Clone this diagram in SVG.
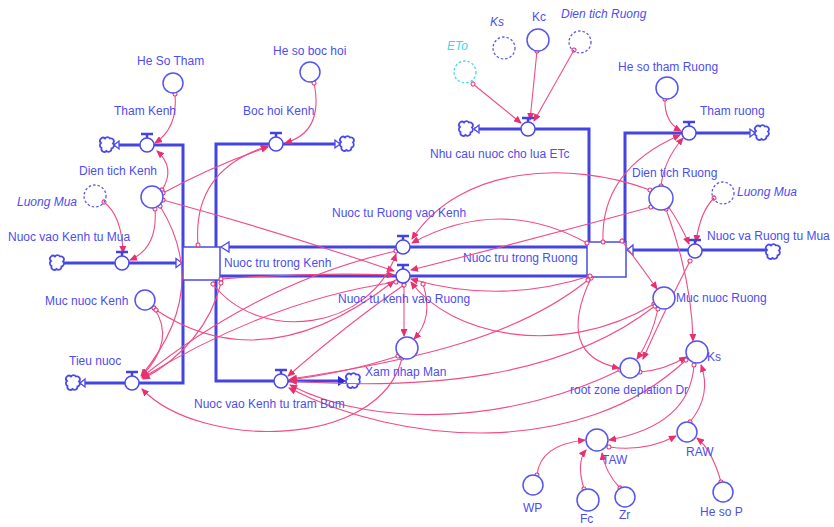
<svg xmlns="http://www.w3.org/2000/svg" xmlns:xlink="http://www.w3.org/1999/xlink" width="834" height="527" viewBox="0 0 834 527">
  <style>
    .lbl { font-family: "Liberation Sans", Arial, sans-serif; font-size: 12px; fill: #4d4df2; }
    .it { font-style: italic; }
    .aux { fill: #ffffff; stroke: #5555f0; stroke-width: 1.5; }
    .shadow { fill: none; stroke: #5a5af0; stroke-width: 1.3; stroke-dasharray: 2.5 2; }
    .pipe { fill: none; stroke: #4444e4; stroke-width: 3; }
    .box { fill: #ffffff; stroke: #4a4ae8; stroke-width: 1.5; }
    .valve { fill: #ffffff; stroke: #4a4aee; stroke-width: 1.5; }
    .vbar { stroke: #4242e4; stroke-width: 2.5; }
    .cloud { fill: #ffffff; stroke: #4a4aee; stroke-width: 1.8; }
    .head { fill: #ffffff; stroke: #4a4aee; stroke-width: 1.3; }
    .lk { fill: none; stroke: #f24b86; stroke-width: 1.1; marker-end: url(#arr); marker-start: url(#tail); }
  </style>
  <defs>
    <marker id="arr" markerUnits="userSpaceOnUse" markerWidth="8" markerHeight="7" refX="7" refY="3.5" orient="auto">
      <path d="M0,0 L8,3.5 L0,7 z" fill="#e8306e"/>
    </marker>
    <marker id="tail" markerUnits="userSpaceOnUse" markerWidth="6" markerHeight="6" refX="3" refY="3" orient="auto">
      <circle cx="3" cy="3" r="2" fill="#ffffff" stroke="#e8306e" stroke-width="1"/>
    </marker>
    <path id="cld" class="cloud" d="M-6,-2 a3,3 0 0 1 4,-4.5 a3,3 0 0 1 5,0 a3,3 0 0 1 3,5 a3,3 0 0 1 -1.5,5 a3,3 0 0 1 -5,2.5 a3,3 0 0 1 -5,-3 a3,3 0 0 1 -0.5,-5 z"/>
    <g id="vlv">
      <line class="vbar" x1="-6" y1="-11" x2="6" y2="-11"/>
      <line class="vbar" x1="0" y1="-11" x2="0" y2="-7" stroke-width="1.5"/>
      <circle class="valve" r="7"/>
    </g>
  </defs>
  <rect width="834" height="527" fill="#ffffff"/>

  <!-- material pipes -->
  <g id="pipes">
    <path class="pipe" d="M114 145 H183 V383 H80"/>
    <path class="pipe" d="M216 247 V144 H340"/>
    <path class="pipe" d="M216 280 V381 H343"/>
    <path class="pipe" d="M63 263 H176"/>
    <path class="pipe" d="M229 247 H587"/>
    <path class="pipe" d="M220 276 H587"/>
    <path class="pipe" d="M474 129 H589 V242"/>
    <path class="pipe" d="M625 242 V133 H755"/>
    <path class="pipe" d="M633 250 H766"/>
    <!-- pipe ends -->
    <polygon class="head" points="221,247 229,242 229,252"/>
    <polygon class="head" points="182,263 176,258.5 176,267.5"/>
    <polygon class="head" points="627,250 633,245 633,255"/>
    <polygon class="head" points="114,145 119,141 119,149"/>
    <polygon class="head" points="340,144 335,140 335,148"/>
    <polygon class="head" points="80,383 85,379 85,387"/>
    <polygon class="head" points="474,129 479,125 479,133"/>
    <polygon class="head" points="755,133 750,129 750,137"/>
    <polygon points="346,381 338,376 338,386" fill="#2828d8"/>
  </g>

  <!-- stocks -->
  <g id="stock-kenh">
    <rect class="box" x="183" y="247" width="37" height="33"/>
    <text class="lbl" x="224" y="267">Nuoc tru trong Kenh</text>
  </g>
  <g id="stock-ruong">
    <rect class="box" x="587" y="242" width="39" height="35"/>
    <text class="lbl" x="463" y="262">Nuoc tru trong Ruong</text>
  </g>

  <!-- clouds -->
  <g id="clouds">
    <use xlink:href="#cld" x="107" y="145"/>
    <use xlink:href="#cld" x="347" y="144"/>
    <use xlink:href="#cld" x="57" y="263"/>
    <use xlink:href="#cld" x="73" y="383"/>
    <use xlink:href="#cld" x="353" y="381"/>
    <use xlink:href="#cld" x="466" y="129"/>
    <use xlink:href="#cld" x="762" y="133"/>
    <use xlink:href="#cld" x="773" y="252"/>
  </g>

  <!-- causal links -->
  <g id="links">
    <path class="lk" d="M175 94 Q178 128 155 143"/>
    <path class="lk" d="M314 83 Q324 132 285 143"/>
    <path class="lk" d="M162 190 Q176 168 157 151"/>
    <path class="lk" d="M163 193 Q215 165 268 147"/>
    <path class="lk" d="M198 245 Q192 170 268 146"/>
    <path class="lk" d="M104 202 Q122 216 123 253"/>
    <path class="lk" d="M155 209 Q158 248 130 260"/>
    <path class="lk" d="M163 200 Q280 232 394 271"/>
    <path class="lk" d="M160 206 Q212 290 141 376"/>
    <path class="lk" d="M154 308 Q176 340 142 376"/>
    <path class="lk" d="M156 310 Q265 382 394 281"/>
    <path class="lk" d="M221 279 Q310 272 394 275"/>
    <path class="lk" d="M213 284 C260 345 370 330 396 254"/>
    <path class="lk" d="M396 282 Q270 300 142 378"/>
    <path class="lk" d="M396 251 Q260 282 142 377"/>
    <path class="lk" d="M221 283 Q205 345 143 379"/>
    <path class="lk" d="M402 358 C380 450 200 450 142 389"/>
    <path class="lk" d="M398 356 Q350 372 289 380"/>
    <path class="lk" d="M404 283 L404 336"/>
    <path class="lk" d="M423 284 Q434 318 414 339"/>
    <path class="lk" d="M404 285 Q350 322 288 376"/>

    <path class="lk" d="M473 84 L521 123"/>
    <path class="lk" d="M537 51 L530 120"/>
    <path class="lk" d="M574 50 L534 121"/>
    <path class="lk" d="M665 99 Q664 122 681 131"/>
    <path class="lk" d="M661 186 Q664 160 683 138"/>
    <path class="lk" d="M603 242 Q600 170 680 135"/>
    <path class="lk" d="M714 198 Q700 212 696 242"/>
    <path class="lk" d="M668 206 Q681 225 689 244"/>
    <path class="lk" d="M622 241 Q640 265 657 289"/>
    <path class="lk" d="M690 261 Q660 320 643 359"/>
    <path class="lk" d="M658 309 Q652 337 637 359"/>
    <path class="lk" d="M591 278 Q555 355 619 368"/>
    <path class="lk" d="M666 209 Q692 280 693 341"/>
    <path class="lk" d="M640 372 Q665 370 686 357"/>
    <path class="lk" d="M690 422 Q712 395 701 365"/>
    <path class="lk" d="M694 365 Q690 425 609 440"/>
    <path class="lk" d="M609 447 Q645 452 676 436"/>
    <path class="lk" d="M537 475 Q540 445 585 440"/>
    <path class="lk" d="M584 489 Q576 462 586 450"/>
    <path class="lk" d="M620 488 Q605 472 602 453"/>
    <path class="lk" d="M721 482 Q712 450 697 438"/>

    <path class="lk" d="M650 190 C570 160 460 165 412 239"/>
    <path class="lk" d="M587 243 Q500 195 412 243"/>
    <path class="lk" d="M651 207 Q530 240 411 270"/>
    <path class="lk" d="M654 304 C560 360 450 335 411 282"/>
    <path class="lk" d="M590 276 Q500 305 411 279"/>
    <path class="lk" d="M588 280 C520 335 420 360 290 379"/>
    <path class="lk" d="M655 306 C560 380 420 390 290 381"/>
    <path class="lk" d="M620 370 C520 420 380 432 290 385"/>
    <path class="lk" d="M686 360 C580 460 400 445 289 388"/>
  </g>

  <!-- Kenh side -->
  <g id="he-so-tham"><circle class="aux" cx="173" cy="83" r="10"/><text class="lbl" x="137" y="65">He So Tham</text></g>
  <g id="he-so-boc-hoi"><circle class="aux" cx="310" cy="72" r="10"/><text class="lbl" x="273" y="55">He so boc hoi</text></g>
  <g id="tham-kenh"><use xlink:href="#vlv" x="147" y="145"/><text class="lbl" x="114" y="115">Tham Kenh</text></g>
  <g id="boc-hoi-kenh"><use xlink:href="#vlv" x="276" y="144"/><text class="lbl" x="243" y="115">Boc hoi Kenh</text></g>
  <g id="dien-tich-kenh"><circle class="aux" cx="152" cy="197" r="11"/><text class="lbl" x="79" y="175">Dien tich Kenh</text></g>
  <g id="luong-mua-kenh"><circle class="shadow" cx="95" cy="196" r="11"/><text class="lbl it" x="17" y="206">Luong Mua</text></g>
  <g id="nuoc-vao-kenh-tu-mua"><use xlink:href="#vlv" x="122" y="263"/><text class="lbl" x="8" y="241">Nuoc vao Kenh tu Mua</text></g>
  <g id="muc-nuoc-kenh"><circle class="aux" cx="145" cy="300" r="10"/><text class="lbl" x="45" y="305">Muc nuoc Kenh</text></g>
  <g id="tieu-nuoc"><use xlink:href="#vlv" x="132" y="383"/><text class="lbl" x="69" y="365">Tieu nuoc</text></g>
  <g id="nuoc-vao-kenh-tu-tram-bom"><use xlink:href="#vlv" x="281" y="381"/><text class="lbl" x="194" y="408">Nuoc vao Kenh tu tram Bom</text></g>
  <g id="xam-nhap-man"><circle class="aux" cx="407" cy="348" r="11"/><text class="lbl" x="365" y="376">Xam nhap Man</text></g>
  <g id="nuoc-tu-ruong-vao-kenh"><use xlink:href="#vlv" x="403" y="247"/><text class="lbl" x="332" y="217">Nuoc tu Ruong vao Kenh</text></g>
  <g id="nuoc-tu-kenh-vao-ruong"><use xlink:href="#vlv" x="403" y="276"/><text class="lbl" x="338" y="303">Nuoc tu kenh vao Ruong</text></g>

  <!-- Ruong side -->
  <g id="nhu-cau-etc"><use xlink:href="#vlv" x="528" y="129"/><text class="lbl" x="430" y="158">Nhu cau nuoc cho lua ETc</text></g>
  <g id="eto"><circle class="shadow" cx="465" cy="72" r="11" style="stroke:#40d8ee"/><text class="lbl it" x="447" y="50" style="fill:#38d8f0">ETo</text></g>
  <g id="ks-shadow"><circle class="shadow" cx="504" cy="48" r="11"/><text class="lbl it" x="490" y="26">Ks</text></g>
  <g id="kc"><circle class="aux" cx="538" cy="40" r="11"/><text class="lbl" x="532" y="21">Kc</text></g>
  <g id="dien-tich-ruong-shadow"><circle class="shadow" cx="580" cy="42" r="11"/><text class="lbl it" x="561" y="18">Dien tich Ruong</text></g>
  <g id="he-so-tham-ruong"><circle class="aux" cx="667" cy="88" r="11"/><text class="lbl" x="618" y="71">He so tham Ruong</text></g>
  <g id="tham-ruong"><use xlink:href="#vlv" x="689" y="133"/><text class="lbl" x="700" y="115">Tham ruong</text></g>
  <g id="dien-tich-ruong"><circle class="aux" cx="661" cy="198" r="12"/><text class="lbl" x="632" y="177">Dien tich Ruong</text></g>
  <g id="luong-mua-ruong"><circle class="shadow" cx="723" cy="193" r="11"/><text class="lbl it" x="737" y="196">Luong Mua</text></g>
  <g id="nuoc-va-ruong-tu-mua"><use xlink:href="#vlv" x="695" y="251"/><text class="lbl" x="707" y="240">Nuoc va Ruong tu Mua</text></g>
  <g id="muc-nuoc-ruong"><circle class="aux" cx="664" cy="298" r="11"/><text class="lbl" x="676" y="302">Muc nuoc Ruong</text></g>
  <g id="ks"><circle class="aux" cx="697" cy="352" r="11"/><text class="lbl" x="707" y="361">Ks</text></g>
  <g id="root-zone-dr"><circle class="aux" cx="630" cy="368" r="10"/><text class="lbl" x="570" y="394">root zone deplation Dr</text></g>
  <g id="taw"><circle class="aux" cx="597" cy="440" r="11"/><text class="lbl" x="602" y="464">TAW</text></g>
  <g id="raw"><circle class="aux" cx="687" cy="432" r="10"/><text class="lbl" x="686" y="456">RAW</text></g>
  <g id="wp"><circle class="aux" cx="533" cy="485" r="10"/><text class="lbl" x="523" y="512">WP</text></g>
  <g id="fc"><circle class="aux" cx="588" cy="500" r="11"/><text class="lbl" x="580" y="523">Fc</text></g>
  <g id="zr"><circle class="aux" cx="625" cy="497" r="10"/><text class="lbl" x="619" y="519">Zr</text></g>
  <g id="he-so-p"><circle class="aux" cx="723" cy="492" r="10"/><text class="lbl" x="700" y="516">He so P</text></g>
</svg>
